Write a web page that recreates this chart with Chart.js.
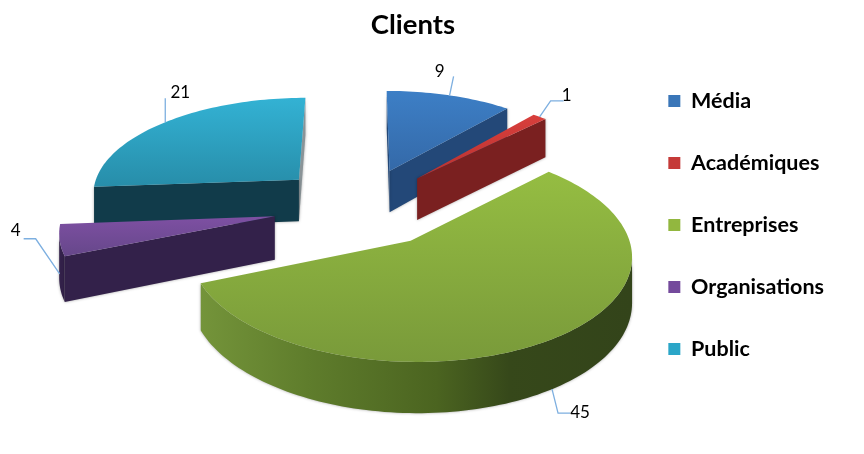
<!DOCTYPE html>
<html>
<head>
<meta charset="utf-8">
<style>
  html, body { margin: 0; padding: 0; background: #fff; }
  #wrap { width: 864px; height: 454px; }
</style>
<script src="https://cdn.jsdelivr.net/npm/chart.js@4/dist/chart.umd.min.js"></script>
</head>
<body>
<div id="wrap"><canvas id="clients"></canvas></div>
<script>
const categories = ['Média', 'Académiques', 'Entreprises', 'Organisations', 'Public'];
const values = [9, 1, 45, 4, 21];

const legendColors = ['#3a76b8', '#c53a38', '#92b73f', '#744a9c', '#2ba6c8'];
const topLight = ['#3d7fc6', '#d83f3c', '#95bd42', '#7e50a3', '#33b2d4'];
const topDark = ['#3469a8', '#b93230', '#799a3a', '#66478a', '#278da9'];
const wallColors = ['#234878', '#7a2020', '#6f8f33', '#33214a', '#113b4a'];

// back to front
const drawOrder = [4, 3, 0, 1, 2];

// leader line per slice: depth of the anchor, elbows relative to it, text position relative to it
const leaders = [
  { z: 0, path: [[4, -19]], text: [-10, -24] },
  { z: 0, path: [[11, -16], [24, -16]], text: [27, -21] },
  { z: 1, path: [[6, 24], [18, 24]], text: [28, 23] },
  { z: 0.75, path: [[-24, -35], [-36, -35]], text: [-44, -43] },
  { z: 0, path: [[0, -24]], text: [15, -30] }
];

const explode = [85, 85, 85, 88, 88];
const pieRadius = 210;
const squash = 0.465;
const perspective = 0.12;
const wallDepth = 43;
const viewShift = { x: -51.5, y: -42.5 };

function project(arc, u, v, z) {
  const w = 1 / (1 - perspective * v / arc.outerRadius);
  return {
    x: arc.x + viewShift.x + u * w,
    y: arc.y + viewShift.y + (v * squash + z * wallDepth) * w
  };
}

function slicePoints(arc) {
  const off = arc.options.offset;
  const mid = (arc.startAngle + arc.endAngle) / 2;
  const ox = Math.cos(mid) * off;
  const oy = Math.sin(mid) * off;
  const rim = [];
  const steps = Math.max(3, Math.ceil((arc.endAngle - arc.startAngle) * 40));
  for (let i = 0; i <= steps; i++) {
    const a = arc.startAngle + (arc.endAngle - arc.startAngle) * i / steps;
    rim.push([ox + Math.cos(a) * arc.outerRadius, oy + Math.sin(a) * arc.outerRadius]);
  }
  return { center: [ox, oy], rim };
}

function fillPoly(ctx, pts, fill) {
  ctx.beginPath();
  pts.forEach((p, i) => (i ? ctx.lineTo(p.x, p.y) : ctx.moveTo(p.x, p.y)));
  ctx.closePath();
  ctx.fillStyle = fill;
  ctx.fill();
}

function facesViewer(pts) {
  let area = 0;
  pts.forEach((p, i) => {
    const q = pts[(i + 1) % pts.length];
    area += p.x * q.y - q.x * p.y;
  });
  return area > 0;
}

function drawSlice(ctx, arc, i) {
  const { center, rim } = slicePoints(arc);
  const at = (p, z) => project(arc, p[0], p[1], z);
  const topFace = [at(center, 0), ...rim.map(p => at(p, 0))];

  ctx.save();
  ctx.shadowColor = 'rgba(0,0,0,0.35)';
  ctx.shadowBlur = 3;

  // outer wall, only the part of the rim that is towards the viewer
  const front = [];
  for (let k = 0; k < rim.length - 1; k++) {
    const quad = [at(rim[k], 0), at(rim[k + 1], 0), at(rim[k + 1], 1), at(rim[k], 1)];
    if (!facesViewer(quad)) front.push(k, k + 1);
  }
  if (front.length) {
    const from = Math.min(...front);
    const to = Math.max(...front);
    const run = rim.slice(from, to + 1);
    const wall = [...run.map(p => at(p, 0)), ...run.reverse().map(p => at(p, 1))];
    let fill = wallColors[i];
    if (i === 2) {
      const g = ctx.createLinearGradient(200, 0, 630, 0);
      g.addColorStop(0, '#74943a');
      g.addColorStop(0.25, '#5f7d2c');
      g.addColorStop(0.55, '#4b6420');
      g.addColorStop(0.72, '#36481a');
      g.addColorStop(1, '#33441a');
      fill = g;
    }
    fillPoly(ctx, wall, fill);
  }

  // the two cut faces
  const first = rim[0];
  const last = rim[rim.length - 1];
  const startWall = [at(center, 0), at(center, 1), at(first, 1), at(first, 0)];
  const endWall = [at(center, 0), at(last, 0), at(last, 1), at(center, 1)];
  if (facesViewer(endWall)) fillPoly(ctx, endWall, i === 4 ? '#8a9498' : wallColors[i]);
  if (facesViewer(startWall)) fillPoly(ctx, startWall, wallColors[i]);

  // top face
  ctx.shadowBlur = 0;
  const ys = topFace.map(p => p.y);
  const g = ctx.createLinearGradient(0, Math.min(...ys), 0, Math.max(...ys));
  g.addColorStop(0, topLight[i]);
  g.addColorStop(1, topDark[i]);
  fillPoly(ctx, topFace, g);
  ctx.restore();
}

function drawLeader(ctx, arc, i) {
  const mid = (arc.startAngle + arc.endAngle) / 2;
  const { center } = slicePoints(arc);
  const a = project(arc, center[0] + Math.cos(mid) * arc.outerRadius,
    center[1] + Math.sin(mid) * arc.outerRadius, leaders[i].z);

  ctx.save();
  ctx.strokeStyle = '#7dafe0';
  ctx.lineWidth = 1.3;
  ctx.beginPath();
  ctx.moveTo(a.x, a.y);
  leaders[i].path.forEach(p => ctx.lineTo(a.x + p[0], a.y + p[1]));
  ctx.stroke();

  ctx.fillStyle = '#000';
  ctx.font = '17px Lato';
  ctx.textAlign = 'center';
  ctx.textBaseline = 'middle';
  ctx.fillText(String(values[i]), a.x + leaders[i].text[0], a.y + leaders[i].text[1]);
  ctx.restore();
}

const pie3d = {
  id: 'pie3d',
  // the flat arcs are replaced by their projected version
  beforeDatasetDraw(chart, args) {
    const ctx = chart.ctx;
    const arcs = args.meta.data;
    drawOrder.forEach(i => drawSlice(ctx, arcs[i], i));
    arcs.forEach((arc, i) => drawLeader(ctx, arc, i));
    return false;
  }
};

new Chart(document.getElementById('clients'), {
  type: 'pie',
  data: {
    labels: categories,
    datasets: [{
      data: values,
      backgroundColor: legendColors,
      offset: explode,
      borderWidth: 0
    }]
  },
  options: {
    responsive: true,
    maintainAspectRatio: false,
    animation: false,
    radius: pieRadius,
    layout: { padding: { left: 198, right: 30, top: 0, bottom: 4 } },
    plugins: {
      tooltip: { enabled: false },
      title: {
        display: true,
        fullSize: false,
        text: 'Clients',
        color: '#000',
        font: { family: 'Lato', size: 27.5, weight: 'bold' },
        padding: { top: 9, bottom: 6 }
      },
      legend: {
        position: 'right',
        labels: {
          color: '#000',
          boxWidth: 12,
          boxHeight: 12,
          padding: 40.5,
          font: { family: 'Lato', size: 21.5, weight: 'bold' }
        }
      }
    }
  },
  plugins: [pie3d]
});
</script>
</body>
</html>
